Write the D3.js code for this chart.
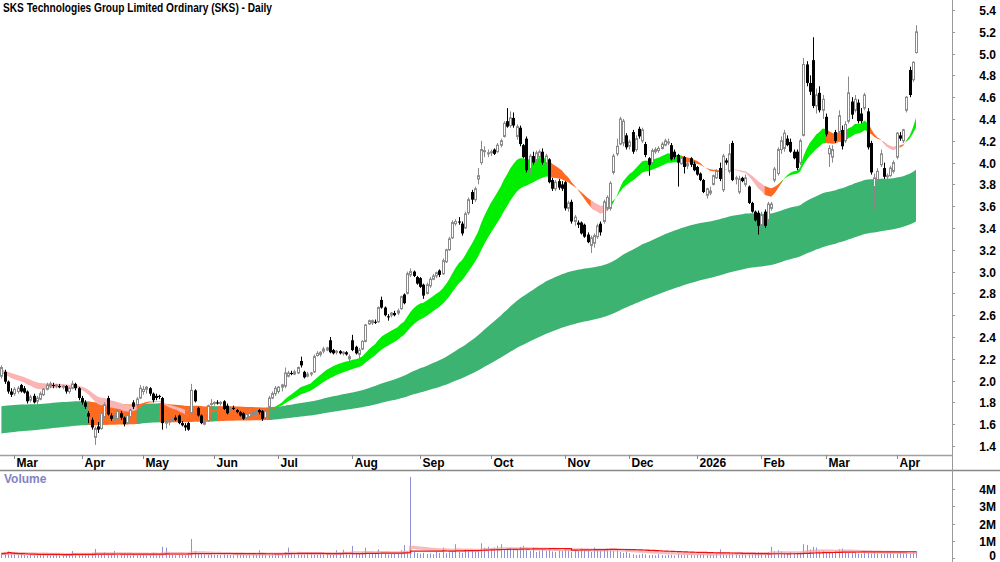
<!DOCTYPE html>
<html lang="en">
<head>
<meta charset="utf-8" />
<title>SKS Technologies - Daily</title>
<script src="https://cdn.jsdelivr.net/npm/d3@7"></script>
<style>
  body { margin: 0; background: #fff; }
  svg { display: block; font-family: "Liberation Sans Narrow", "Liberation Sans", Arial, sans-serif; }
  .lbl { font-weight: bold; font-size: 12px; fill: #000; }
</style>
</head>
<body>
<svg width="1000" height="562"></svg>
<script>

//  trading calendar (ASX) : first / last session and closed days
var firstDay = "2025-02-25", lastDay = "2026-04-13";
var holidays = ["2025-04-18","2025-04-21","2025-04-25","2025-06-09","2025-12-25",
  "2025-12-26","2026-01-01","2026-01-26","2026-04-03","2026-04-06"];

//  daily candles [open, high, low, close], one line per month
var candles = [
  [2.04,2.14,2.02,2.12],[2.08,2.10,1.97,1.99],[1.99,2.00,1.88,1.90],[1.90,1.93,1.85,1.87],
  [1.88,1.94,1.86,1.92],[1.90,1.95,1.88,1.93],[1.96,1.97,1.89,1.90],[1.93,1.95,1.88,1.89],[1.90,1.91,1.79,1.81],[1.82,1.87,1.80,1.85],[1.86,1.88,1.79,1.80],[1.81,1.86,1.78,1.84],[1.83,1.90,1.82,1.88],[1.87,1.93,1.86,1.92],[1.92,1.98,1.91,1.96],[1.95,1.99,1.93,1.97],[1.96,1.98,1.93,1.95],[1.95,1.97,1.93,1.96],[1.95,1.97,1.93,1.94],[1.94,1.96,1.92,1.95],[1.95,1.96,1.88,1.90],[1.90,1.94,1.88,1.93],[1.93,2.00,1.92,1.97],[1.97,1.98,1.91,1.93],[1.93,1.94,1.82,1.84],
  [1.84,1.86,1.78,1.80],[1.80,1.82,1.74,1.76],[1.70,1.72,1.61,1.67],[1.64,1.66,1.55,1.57],[1.48,1.58,1.41,1.56],[1.58,1.62,1.52,1.55],[1.56,1.72,1.55,1.70],[1.67,1.80,1.66,1.78],[1.84,1.86,1.68,1.69],[1.68,1.70,1.63,1.65],[1.65,1.69,1.63,1.67],[1.65,1.73,1.64,1.72],[1.70,1.72,1.64,1.66],[1.66,1.67,1.58,1.60],[1.61,1.70,1.60,1.68],[1.67,1.74,1.66,1.73],[1.80,1.82,1.74,1.76],[1.78,1.85,1.76,1.83],[1.84,1.96,1.83,1.93],
  [1.90,1.95,1.87,1.92],[1.92,1.95,1.88,1.94],[1.93,1.94,1.86,1.88],[1.88,1.89,1.80,1.82],[1.86,1.88,1.82,1.84],[1.86,1.87,1.83,1.85],[1.84,1.85,1.55,1.61],[1.61,1.64,1.56,1.62],[1.63,1.65,1.59,1.63],[1.63,1.66,1.62,1.65],[1.66,1.68,1.63,1.64],[1.68,1.69,1.60,1.61],[1.61,1.63,1.58,1.59],[1.59,1.61,1.54,1.57],[1.61,1.62,1.54,1.55],[1.70,1.97,1.69,1.91],[1.91,1.92,1.80,1.81],[1.75,1.76,1.67,1.68],[1.68,1.69,1.60,1.61],[1.60,1.64,1.59,1.62],[1.63,1.78,1.62,1.77],[1.78,1.83,1.77,1.79],
  [1.79,1.81,1.77,1.80],[1.80,1.82,1.78,1.79],[1.79,1.81,1.77,1.80],[1.81,1.82,1.73,1.74],[1.77,1.79,1.69,1.70],[1.73,1.76,1.72,1.75],[1.75,1.77,1.73,1.74],[1.73,1.74,1.70,1.71],[1.71,1.72,1.67,1.68],[1.70,1.71,1.64,1.65],[1.66,1.70,1.65,1.69],[1.67,1.71,1.66,1.70],[1.69,1.72,1.67,1.71],[1.70,1.73,1.68,1.72],[1.73,1.74,1.69,1.71],[1.72,1.73,1.63,1.65],[1.66,1.73,1.65,1.72],[1.76,1.86,1.75,1.84],[1.84,1.90,1.83,1.88],[1.88,1.95,1.86,1.93],
  [1.90,1.95,1.88,1.94],[1.94,1.97,1.90,1.96],[1.95,2.12,1.93,2.07],[2.04,2.09,2.03,2.07],[2.07,2.09,2.05,2.06],[2.06,2.10,2.05,2.08],[2.07,2.13,2.06,2.12],[2.18,2.22,2.12,2.14],[2.08,2.09,2.02,2.03],[2.04,2.08,2.03,2.06],[2.06,2.08,2.04,2.07],[2.08,2.24,2.07,2.22],[2.23,2.27,2.22,2.25],[2.24,2.27,2.22,2.26],[2.27,2.31,2.25,2.29],[2.28,2.31,2.27,2.30],[2.37,2.40,2.25,2.26],[2.28,2.29,2.24,2.25],[2.26,2.28,2.24,2.27],[2.27,2.28,2.24,2.25],[2.25,2.27,2.23,2.26],[2.26,2.27,2.23,2.24],[2.20,2.24,2.15,2.22],
  [2.37,2.42,2.27,2.28],[2.31,2.32,2.24,2.25],[2.24,2.30,2.20,2.28],[2.29,2.37,2.28,2.36],[2.36,2.52,2.35,2.51],[2.52,2.56,2.51,2.55],[2.53,2.56,2.51,2.55],[2.54,2.56,2.52,2.53],[2.54,2.68,2.53,2.67],[2.74,2.77,2.66,2.67],[2.67,2.68,2.59,2.60],[2.59,2.61,2.55,2.58],[2.60,2.63,2.58,2.62],[2.62,2.64,2.59,2.60],[2.62,2.66,2.60,2.64],[2.66,2.78,2.65,2.77],[2.79,2.80,2.70,2.71],[2.80,3.00,2.79,2.98],[2.97,3.03,2.95,3.00],[3.00,3.01,2.95,2.96],[2.95,2.96,2.88,2.89],
  [2.94,2.95,2.85,2.86],[2.88,2.89,2.75,2.78],[2.80,2.90,2.79,2.88],[2.87,2.95,2.85,2.93],[2.93,2.98,2.92,2.96],[2.96,3.00,2.94,2.99],[3.01,3.02,2.95,2.97],[2.98,3.12,2.97,3.10],[3.09,3.21,3.08,3.20],[3.20,3.32,3.19,3.30],[3.31,3.47,3.30,3.45],[3.44,3.48,3.42,3.46],[3.46,3.50,3.43,3.45],[3.44,3.46,3.33,3.35],[3.40,3.55,3.39,3.53],[3.54,3.68,3.52,3.66],[3.73,3.75,3.62,3.66],[3.66,3.78,3.64,3.76],[3.85,3.95,3.80,3.88],[4.00,4.20,3.98,4.12],[4.10,4.15,4.05,4.11],[4.08,4.12,4.05,4.09],
  [4.09,4.12,4.06,4.10],[4.12,4.13,4.07,4.08],[4.10,4.18,4.09,4.16],[4.16,4.22,4.14,4.20],[4.24,4.38,4.23,4.36],[4.38,4.50,4.32,4.33],[4.34,4.47,4.32,4.41],[4.41,4.46,4.32,4.34],[4.24,4.35,4.21,4.33],[4.32,4.34,4.15,4.17],[4.16,4.17,4.04,4.05],[4.22,4.24,3.91,3.93],[3.94,4.08,3.89,4.06],[4.06,4.10,3.98,4.00],[4.02,4.11,4.00,4.09],[4.05,4.12,4.03,4.10],[4.10,4.13,3.98,4.00],[4.00,4.08,3.98,4.06],[4.03,4.04,3.81,3.82],[3.84,3.86,3.74,3.76],[3.76,3.84,3.74,3.82],[3.83,3.85,3.75,3.77],[3.80,3.83,3.74,3.76],
  [3.82,3.83,3.56,3.58],[3.58,3.65,3.55,3.63],[3.64,3.66,3.44,3.46],[3.46,3.52,3.42,3.50],[3.45,3.47,3.40,3.43],[3.45,3.46,3.34,3.35],[3.43,3.44,3.31,3.32],[3.34,3.36,3.26,3.27],[3.24,3.33,3.17,3.31],[3.26,3.35,3.22,3.33],[3.32,3.44,3.30,3.42],[3.44,3.46,3.33,3.36],[3.46,3.66,3.44,3.64],[3.58,3.70,3.56,3.68],[3.58,3.83,3.56,3.81],[3.91,4.08,3.89,4.06],[4.08,4.22,4.06,4.15],[4.17,4.42,4.16,4.40],[4.18,4.40,4.15,4.38],[4.25,4.27,4.12,4.14],
  [4.15,4.21,4.12,4.19],[4.28,4.30,4.08,4.10],[4.12,4.25,4.10,4.22],[4.31,4.33,4.22,4.24],[4.20,4.32,4.18,4.30],[4.17,4.19,4.05,4.07],[4.04,4.05,3.88,3.98],[4.00,4.13,3.99,4.11],[4.10,4.14,4.08,4.12],[4.11,4.15,4.09,4.13],[4.13,4.19,4.12,4.17],[4.16,4.22,4.15,4.20],[4.18,4.22,4.16,4.19],[4.16,4.18,4.02,4.03],[4.10,4.12,4.03,4.05],[4.07,4.08,3.78,4.00],[3.99,4.06,3.98,4.04],[4.05,4.06,3.90,3.96],[3.97,4.02,3.94,3.99],[4.04,4.05,3.96,3.98],[3.99,4.01,3.92,3.93],
  [3.96,3.97,3.88,3.89],[3.90,3.91,3.83,3.84],[3.84,3.85,3.72,3.73],[3.70,3.77,3.67,3.76],[3.72,3.78,3.70,3.74],[3.80,3.89,3.79,3.88],[3.86,3.94,3.85,3.92],[3.95,4.00,3.83,3.85],[3.75,4.08,3.73,4.06],[4.02,4.04,3.98,4.00],[3.92,4.17,3.90,4.08],[4.18,4.20,3.83,3.84],[3.85,3.88,3.80,3.86],[3.73,3.88,3.71,3.85],[3.86,3.87,3.82,3.83],[3.80,3.89,3.78,3.86],[3.78,3.79,3.62,3.63],[3.63,3.64,3.54,3.55],[3.55,3.56,3.46,3.47],[3.54,3.56,3.34,3.42],
  [3.43,3.55,3.38,3.52],[3.55,3.57,3.40,3.42],[3.47,3.64,3.46,3.62],[3.58,3.64,3.56,3.62],[3.84,3.96,3.82,3.94],[3.90,4.14,3.88,4.12],[4.12,4.24,4.08,4.20],[4.13,4.30,4.10,4.27],[4.22,4.25,4.15,4.16],[4.19,4.22,4.09,4.10],[4.10,4.12,4.03,4.04],[4.10,4.12,3.93,3.95],[4.00,4.22,3.98,4.20],[4.25,4.96,4.24,4.90],[4.90,4.93,4.70,4.73],[4.73,4.80,4.62,4.65],[4.94,5.15,4.50,4.52],[4.52,4.68,4.45,4.62],[4.64,4.70,4.46,4.48],[4.48,4.62,4.40,4.58],
  [4.42,4.45,4.24,4.26],[4.08,4.16,3.96,4.13],[4.05,4.16,4.00,4.12],[4.28,4.30,4.18,4.20],[4.28,4.48,4.26,4.43],[4.30,4.34,4.12,4.15],[4.20,4.38,4.18,4.35],[4.38,4.79,4.36,4.64],[4.56,4.60,4.40,4.44],[4.48,4.62,4.46,4.58],[4.55,4.58,4.36,4.38],[4.45,4.50,4.36,4.38],[4.50,4.64,4.48,4.62],[4.47,4.50,4.12,4.14],[4.18,4.20,3.89,3.91],[3.78,3.90,3.57,3.86],[3.84,3.95,3.80,3.92],[3.98,4.12,3.96,4.08],[3.95,4.00,3.85,3.87],[3.87,3.90,3.84,3.88],[3.88,3.97,3.87,3.95],[3.92,4.02,3.90,4.00],
  [4.05,4.28,4.03,4.27],[4.25,4.28,4.20,4.22],[4.20,4.31,4.18,4.30],[4.48,4.61,4.46,4.60],[4.85,4.88,4.60,4.62],[4.76,4.93,4.74,4.92],[5.01,5.26,5.00,5.20]
];

//  daily volume, thousands of shares, one line per month
var volume = [
  250,300,380,200,
  220,150,280,180,120,200,160,140,180,250,170,130,190,220,160,140,210,180,400,260,200,
  180,160,240,300,520,280,200,330,260,180,400,220,170,260,190,140,210,180,200,
  230,150,170,300,160,180,650,600,250,190,160,220,180,160,300,1100,400,220,260,200,180,210,
  200,180,160,230,190,170,150,260,180,200,150,170,210,190,450,220,180,200,250,230,
  240,280,350,600,300,250,280,220,190,260,300,240,200,230,260,220,180,210,450,300,480,250,200,
  700,300,260,350,600,280,250,220,500,330,260,200,240,230,280,450,750,400,4700,350,280,
  250,300,230,270,220,350,300,600,280,330,400,800,350,300,500,450,420,350,380,850,600,650,
  550,600,700,800,500,550,600,450,500,650,700,450,400,600,350,400,500,420,550,380,350,450,400,
  500,450,350,480,400,550,450,400,350,600,480,420,500,550,480,400,520,350,300,380,
  280,220,180,200,250,200,160,180,150,220,170,140,200,180,150,230,190,160,170,200,150,
  180,200,220,160,190,170,230,500,250,200,260,300,220,180,240,200,260,280,300,350,
  300,260,350,650,400,450,380,300,280,350,300,250,330,800,750,500,650,600,400,450,
  380,350,300,400,500,550,350,300,280,330,260,250,300,280,250,320,260,230,250,280,300,220,
  250,400,280,300,260,350,400
];

//  moving average ribbons: periods and the level each one starts from
var shortPeriods = [18, 31],  shortSeeds = [2.06, 2.10];
var longPeriods  = [125, 235], longSeeds  = [1.76, 1.51];

//  ribbon state: [first session index, state]
//  up = rising, down = falling, weak = falling but flattening
var shortState = [[0,"weak"],[43,"down"],[50,"weak"],[58,"down"],[86,"up"],[171,"down"],
  [184,"weak"],[189,"down"],[190,"up"],[212,"down"],[225,"weak"],[238,"down"],[243,"up"],
  [257,"down"],[263,"up"],[270,"down"],[275,"weak"],[280,"down"],[282,"up"]];
var longState = [[0,"up"],[28,"down"],[43,"up"],[50,"down"],[66,"up"],[68,"down"],[84,"up"]];

var priceTicks = d3.range(1.4, 5.41, 0.2);
var volumeTicks = [0, 1, 2, 3, 4];

var title = "SKS Technologies Group Limited Ordinary (SKS) - Daily";

//  colours
var shortColour = { up: "#00ee00", down: "#ff6a22", weak: "#fbb4b4" };
var longColour  = { up: "#3cb371", down: "#ff6a22" };

//  build the session dates
var fmt = d3.timeFormat("%Y-%m-%d");
var dates = d3.timeDay.range(new Date(firstDay + "T00:00"), d3.timeDay.offset(new Date(lastDay + "T00:00"), 1))
  .filter(function(d) { return d.getDay() > 0 && d.getDay() < 6 && holidays.indexOf(fmt(d)) < 0; });

var n = candles.length;
var closes = candles.map(function(c) { return c[3]; });

function ema(values, period, seed) {
  var k = 2 / (period + 1), prev = seed;
  return values.map(function(v) { prev = prev + k * (v - prev); return prev; });
}

var shortA = ema(closes, shortPeriods[0], shortSeeds[0]),
    shortB = ema(closes, shortPeriods[1], shortSeeds[1]),
    longA  = ema(closes, longPeriods[0], longSeeds[0]),
    longB  = ema(closes, longPeriods[1], longSeeds[1]);

//  volume averages
var volMA = volume.map(function(v, i) {
  return d3.mean(volume.slice(Math.max(0, i - 49), i + 1));
});
var volEMA = ema(volume, 30, 260);

//  svg and scales
var svg = d3.select("svg");
var W = 1000, axisX = 952;

var x = d3.scaleLinear().domain([0, 284]).range([1.42, 916]);
var y = d3.scaleLinear().domain([1.4, 5.4]).range([446, 10]);
var yv = d3.scaleLinear().domain([0, 4000]).range([558, 489]);

svg.append("rect").attr("width", W).attr("height", 562).attr("fill", "white");

svg.append("defs").append("clipPath").attr("id", "plot")
  .append("rect").attr("x", 0).attr("y", 0).attr("width", axisX).attr("height", 455);

var plot = svg.append("g").attr("clip-path", "url(#plot)");

//  draw a ribbon as runs of one colour
function ribbon(g, lo, hi, runs, colours) {
  var area = d3.area()
    .x(function(i) { return x(i); })
    .y0(function(i) { return y(lo[i]); })
    .y1(function(i) { return y(hi[i]); });
  runs.forEach(function(r, k) {
    var start = r[0], end = k < runs.length - 1 ? runs[k + 1][0] : n - 1;
    var idx = d3.range(Math.max(0, start - 1), end + 1);
    g.append("path").attr("d", area(idx)).attr("fill", colours[r[1]]);
  });
}

ribbon(plot, longB, longA, longState, longColour);
ribbon(plot, shortB, shortA, shortState, shortColour);

//  candles
var cg = plot.append("g");
candles.forEach(function(c, i) {
  var cx = Math.round(x(i)) + 0.5;
  var up = c[3] >= c[0];
  var col = up ? "#8a8a8a" : "#000";
  cg.append("line").attr("x1", cx).attr("x2", cx)
    .attr("y1", y(c[1])).attr("y2", y(c[2]))
    .attr("stroke", col).attr("stroke-width", 1);
  var top = y(Math.max(c[0], c[3])), bot = y(Math.min(c[0], c[3]));
  if (up) {
    cg.append("rect").attr("x", cx - 1).attr("width", 2)
      .attr("y", top).attr("height", Math.max(1, bot - top))
      .attr("fill", "white").attr("stroke", col).attr("stroke-width", 1);
  } else {
    cg.append("rect").attr("x", cx - 1.5).attr("width", 3)
      .attr("y", top).attr("height", Math.max(1, bot - top))
      .attr("fill", "#000");
  }
});

//  frame lines
svg.append("line").attr("x1", 0).attr("x2", axisX).attr("y1", 455.5).attr("y2", 455.5)
  .attr("stroke", "#a0a0a0").attr("stroke-width", 1.5);
svg.append("line").attr("x1", 0).attr("x2", W).attr("y1", 470.5).attr("y2", 470.5)
  .attr("stroke", "#888").attr("stroke-width", 1.5);
svg.append("line").attr("x1", axisX + 0.5).attr("x2", axisX + 0.5).attr("y1", 0).attr("y2", 562)
  .attr("stroke", "#999").attr("stroke-width", 1);

svg.append("text").attr("class", "lbl").attr("x", 3).attr("y", 12)
  .attr("textLength", 269).attr("lengthAdjust", "spacingAndGlyphs").text(title);

//  month axis
var monthFmt = d3.timeFormat("%b");
dates.forEach(function(d, i) {
  if (i === 0 || d.getMonth() === dates[i - 1].getMonth()) return;
  var tx = Math.round(x(i)) + 0.5;
  svg.append("line").attr("x1", tx).attr("x2", tx).attr("y1", 455).attr("y2", 459)
    .attr("stroke", "#888");
  svg.append("text").attr("class", "lbl").attr("x", tx + 2).attr("y", 467)
    .text(d.getMonth() === 0 ? d.getFullYear() : monthFmt(d));
});

//  price axis
priceTicks.forEach(function(p) {
  var ty = Math.round(y(p)) + 0.5;
  svg.append("line").attr("x1", axisX).attr("x2", axisX + 3).attr("y1", ty).attr("y2", ty)
    .attr("stroke", "#999");
  svg.append("text").attr("class", "lbl").attr("x", 996).attr("y", ty + 4)
    .attr("text-anchor", "end").text(p.toFixed(1));
});

//  volume panel
svg.append("text").attr("x", 4).attr("y", 483).attr("font-size", 12).attr("font-weight", "bold")
  .attr("fill", "#8282c4").text("Volume");

var vg = svg.append("g");
volume.forEach(function(v, i) {
  var vx = Math.round(x(i)) + 0.5;
  vg.append("line").attr("x1", vx).attr("x2", vx).attr("y1", yv(0)).attr("y2", yv(v))
    .attr("stroke", "#9090d6").attr("stroke-width", 1);
});

var vline = d3.line().x(function(d, i) { return x(i); }).y(function(d) { return yv(d); })
  .curve(d3.curveStepAfter);
svg.append("path").attr("d", vline(volEMA)).attr("fill", "none")
  .attr("stroke", "#f4a0a0").attr("stroke-width", 3).attr("opacity", 0.7);
svg.append("path").attr("d", vline(volMA)).attr("fill", "none")
  .attr("stroke", "#ee1111").attr("stroke-width", 1.2);

volumeTicks.forEach(function(m) {
  var ty = Math.round(yv(m * 1000)) + 0.5;
  svg.append("line").attr("x1", axisX).attr("x2", axisX + 3).attr("y1", ty).attr("y2", ty)
    .attr("stroke", "#999");
  svg.append("text").attr("class", "lbl").attr("x", 996).attr("y", Math.min(ty + 4, 560))
    .attr("text-anchor", "end").text(m === 0 ? "0" : m + "M");
});

</script>
</body>
</html>
